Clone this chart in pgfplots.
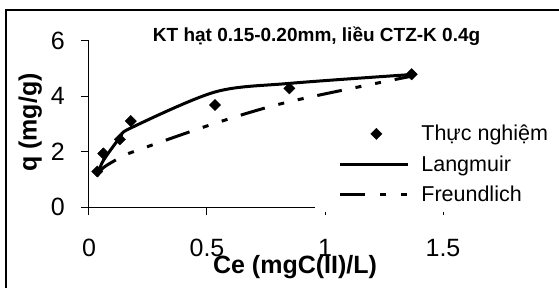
\documentclass[border=0pt]{standalone}
\usepackage{pgfplots}
\pgfplotsset{compat=1.18}
\usepackage{fontspec}
\setmainfont{Liberation Sans}
\begin{document}
\begin{tikzpicture}
\begin{axis}[
  at={(0,0)}, anchor=south west,
  scale only axis, width=354bp, height=166.3bp,
  xmin=0, xmax=1.5, ymin=0, ymax=6,
  axis lines*=left,
  axis line style={line width=1bp, black},
  xtick={0,0.5,1,1.5}, ytick={0,2,4,6},
  xticklabels={0,0.5,1,1.5}, yticklabels={0,2,4,6},
  tick align=outside, major tick length=8bp,
  tick style={line width=1bp, black},
  /pgf/number format/assume math mode=true,
  ticklabel style={font=\fontsize{25bp}{30bp}\selectfont, inner sep=0pt},
  xticklabel shift=24bp,
  yticklabel shift=16bp,
  xlabel={Ce (mgC(II)/L)},
  xlabel style={at={(axis description cs:0.582,-0.397)}, anchor=base, font=\bfseries\fontsize{25bp}{30bp}\selectfont},
  ylabel={q (mg/g)},
  ylabel style={at={(axis description cs:-0.148,0.508)}, anchor=base, font=\bfseries\fontsize{25bp}{30bp}\selectfont},
  title={KT hạt 0.15-0.20mm, liều CTZ-K 0.4g},
  title style={at={(axis description cs:0.643,0.998)}, anchor=base, yshift=-6pt, font=\bfseries\fontsize{19bp}{22bp}\selectfont},
  legend cell align=left,
  legend style={at={(axis description cs:0.6375,0.542)}, anchor=north west,
    fill=white, draw=none, inner xsep=24bp, inner ysep=1.5bp,
    font=\fontsize{21.5bp}{24bp}\selectfont,
    row sep=0pt,
    nodes={inner sep=0pt, text height=22.25bp, text depth=8.25bp}},
]
\addplot[only marks, mark=square*, mark size=4bp, mark options={rotate=45, fill=black, draw=black},
  legend image code/.code={\path[draw=none, fill=none] (0bp,0bp) -- (81bp,0bp); \path[draw=none, fill=none] plot[mark=square*, mark size=4bp, mark options={rotate=45, fill=black, draw=black}] coordinates {(36bp,0bp)};}]
  coordinates {(0.035,1.28) (0.061,1.93) (0.131,2.44) (0.177,3.10) (0.534,3.68) (0.849,4.28) (1.367,4.79)};
\addlegendentry{Thực nghiệm}
\addplot[black, line width=3bp, smooth, tension=0.5,
  legend image code/.code={\path[draw=none, fill=none] (0bp,0bp) -- (81bp,0bp); \draw[black, line width=3bp] (0bp,0bp) -- (68bp,0bp);}]
  coordinates {(0.035,1.15) (0.061,1.68) (0.131,2.5) (0.177,2.85) (0.534,4.15) (0.849,4.46) (1.367,4.78)};
\addlegendentry{Langmuir}
\addplot[black, line width=3bp, smooth, tension=0.5, dash pattern=on 25bp off 14bp on 6bp off 14bp on 6bp off 14bp,
  legend image code/.code={\path[draw=none, fill=none] (0bp,0bp) -- (81bp,0bp); \draw[black, line width=3bp, dash pattern=on 25bp off 15bp on 6bp off 15bp on 6bp off 15bp] (0bp,0bp) -- (68bp,0bp);}]
  coordinates {(0.035,1.12) (0.061,1.42) (0.131,1.78) (0.177,1.96) (0.534,3.02) (0.849,3.8) (1.367,4.72)};
\addlegendentry{Freundlich}
\end{axis}
\draw[line width=2bp, black] (-83bp,-90bp) -- (-83bp,197bp) -- (480bp,197bp);
\pgfresetboundingbox
\path[use as bounding box] (-89bp,-81bp) rectangle (470bp,207bp);
\end{tikzpicture}
\end{document}
